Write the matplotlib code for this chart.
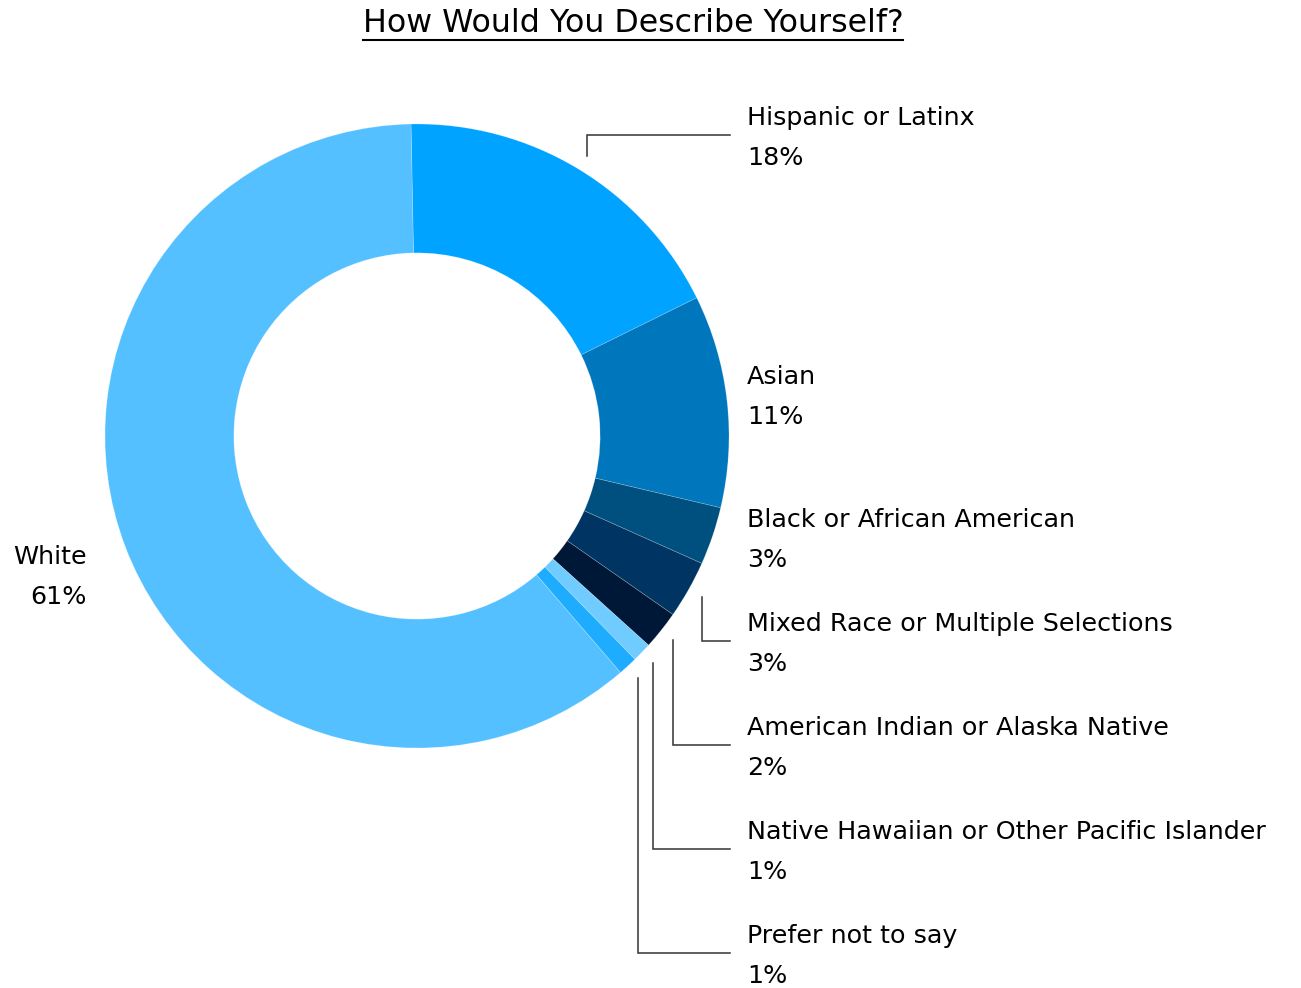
import numpy as np
import matplotlib.pyplot as plt

plt.rcParams['font.family'] = ['DejaVu Sans']

# survey answers, clockwise from the top
groups = ['Hispanic or Latinx', 'Asian', 'Black or African American',
          'Mixed Race or Multiple Selections', 'American Indian or Alaska Native',
          'Native Hawaiian or Other Pacific Islander', 'Prefer not to say', 'White']
shares = [18, 11, 3, 3, 2, 1, 1, 61]
colors = ['#00a3ff', '#0077bd', '#00507f', '#003463', '#001838',
          '#70ccff', '#1eacff', '#55c0ff']

W, H = 1301, 988
fig = plt.figure(figsize=(W / 100, H / 100), dpi=100)
ax = fig.add_axes([0, 0, 1, 1])

cx, cy, R = 417, H - 436, 312
wedges, _ = ax.pie(shares, colors=colors, startangle=91.1, counterclock=False,
                   center=(cx, cy), radius=R,
                   wedgeprops=dict(width=R * 0.413, edgecolor=(1, 1, 1, 0.25), linewidth=0.5))
ax.set_xlim(0, W)
ax.set_ylim(0, H)
ax.set_aspect('equal')
ax.axis('off')

# label rows on the right (pixel rows from the top), white sits on the left
name_rows = [118, 377, 520, 624, 728, 832, 936]
leader = [True, False, False, True, True, True, True]
lx = 747
fs = 18.3

for i, (g, s) in enumerate(zip(groups[:-1], shares[:-1])):
    yname = H - name_rows[i]
    ax.text(lx, yname, g, fontsize=fs, ha='left', va='center', color='#000000')
    ax.text(lx, yname - 40, f'{s}%', fontsize=fs, ha='left', va='center', color='#000000')
    if leader[i]:
        w = wedges[i]
        mid = np.deg2rad((w.theta1 + w.theta2) / 2)
        x0 = cx + 1.05 * R * np.cos(mid)
        y0 = cy + 1.05 * R * np.sin(mid)
        ybend = yname - 17
        ax.plot([x0, x0, 730], [y0, ybend, ybend], color='#333333', lw=1.1,
                solid_joinstyle='miter')

ax.text(87, H - 557, groups[-1], fontsize=fs, ha='right', va='center', color='#000000')
ax.text(87, H - 597, f'{shares[-1]}%', fontsize=fs, ha='right', va='center', color='#000000')

title = ax.text(633, H - 24, 'How Would You Describe Yourself?', fontsize=22.8,
                ha='center', va='center', color='#000000')

# underline the title
fig.canvas.draw()
bb = title.get_window_extent()
ax.plot([bb.x0, bb.x1], [H - 40, H - 40], color='#000000', lw=1.5)

fig.savefig('out.png', dpi=100)
